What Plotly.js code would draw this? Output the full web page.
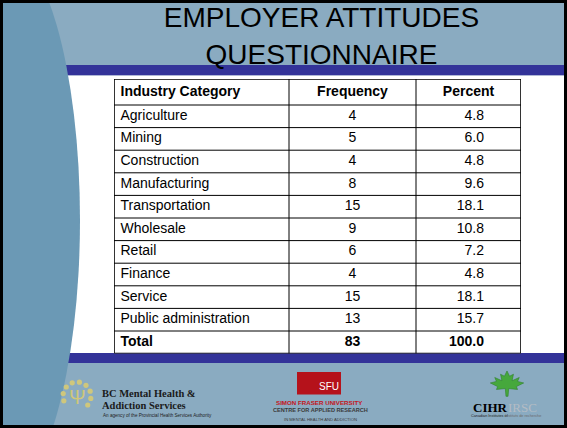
<!DOCTYPE html>
<html>
<head>
<meta charset="utf-8">
<script src="https://cdn.plot.ly/plotly-3.0.1.min.js"></script>
<style>
html,body{margin:0;padding:0;background:#fff;}
#chart{width:567px;height:428px;}
</style>
</head>
<body>
<div id="chart"></div>
<script>
// ---- data ----
const headers = ["Industry Category", "Frequency", "Percent"];
const categories = ["Agriculture", "Mining", "Construction", "Manufacturing", "Transportation",
  "Wholesale", "Retail", "Finance", "Service", "Public administration"];
const frequency = [4, 5, 4, 8, 15, 9, 6, 4, 15, 13];
const percent = [4.8, 6.0, 4.8, 9.6, 18.1, 10.8, 7.2, 4.8, 18.1, 15.7];
const totalLabel = "Total";
const totalFrequency = 83;
const totalPercent = 100.0;
const titleLines = ["EMPLOYER ATTITUDES", "QUESTIONNAIRE"];

// ---- layout constants (table geometry, in table pixels) ----
const W = 567, H = 428;
const px = x => x / W;
const py = y => 1 - y / H;
const tableLeft = 114, tableTop = 79;
const columnWidths = [175, 127, 105];
const headerHeight = 26, rowHeight = 22.6;
const textPad = 6.5, pctRightPad = 37;

const tableWidth = columnWidths.reduce((a, b) => a + b, 0);
const nRows = categories.length + 1;
const tableHeight = headerHeight + nRows * rowHeight;
const colEdges = [0];
columnWidths.forEach(w => colEdges.push(colEdges[colEdges.length - 1] + w));
const rowEdges = [0, headerHeight];
for (let i = 0; i < nRows; i++) rowEdges.push(headerHeight + (i + 1) * rowHeight);

// body rows (data + total)
const rowLabels = categories.concat(["<b>" + totalLabel + "</b>"]);
const rowFreq = frequency.map(String).concat(["<b>" + totalFrequency + "</b>"]);
const rowPct = percent.map(v => v.toFixed(1)).concat(["<b>" + totalPercent.toFixed(1) + "</b>"]);
const rowY = rowLabels.map((_, i) => headerHeight + (i + 0.5) * rowHeight);
const headerY = headerHeight / 2;

const font = "Liberation Sans, Arial, sans-serif";
const serif = "Liberation Serif, Times New Roman, serif";
const tf = { family: font, size: 14, color: "#000000" };

const traces = [
  { type: "scatter", mode: "text", x: rowLabels.map(() => colEdges[0] + textPad), y: rowY,
    text: rowLabels, textposition: "middle right", textfont: tf, hoverinfo: "skip" },
  { type: "scatter", mode: "text", x: rowFreq.map(() => (colEdges[1] + colEdges[2]) / 2), y: rowY,
    text: rowFreq, textposition: "middle center", textfont: tf, hoverinfo: "skip" },
  { type: "scatter", mode: "text", x: rowPct.map(() => colEdges[3] - pctRightPad), y: rowY,
    text: rowPct, textposition: "middle left", textfont: tf, hoverinfo: "skip" },
  { type: "scatter", mode: "text",
    x: [colEdges[0] + textPad, (colEdges[1] + colEdges[2]) / 2, (colEdges[2] + colEdges[3]) / 2],
    y: headers.map(() => headerY),
    text: headers.map(h => "<b>" + h + "</b>"),
    textposition: ["middle right", "middle center", "middle center"], textfont: tf, hoverinfo: "skip" }
];

// ---- slide decoration ----
const bg = "#8aabc1", ellipse = "#6b99b5", navy = "#333399";
const rect = (x0, y0, x1, y1, fill, extra) => Object.assign({
  type: "rect", xref: "paper", yref: "paper",
  x0: px(x0), x1: px(x1), y0: py(y1), y1: py(y0),
  fillcolor: fill, line: { width: 0 }, layer: "below"
}, extra || {});

const shapes = [
  rect(0, 0, W, H, bg),
  rect(0, 65, W, 75.5, navy),
  rect(0, 75.5, W, 353, "#ffffff"),
  rect(0, 353, W, 363, navy),
  { type: "circle", xref: "paper", yref: "paper", layer: "below",
    x0: px(-80), x1: px(80), y0: py(220 + 276), y1: py(220 - 276),
    fillcolor: ellipse, line: { width: 0 } },
  rect(297, 372, 341, 394.5, "#b5121b")
];

// table cells: white fill + grid lines on the table axes
shapes.push({ type: "rect", xref: "x", yref: "y", layer: "below",
  x0: 0, x1: tableWidth, y0: 0, y1: tableHeight, fillcolor: "#ffffff", line: { width: 0 } });
rowEdges.slice(1, -1).forEach(y => shapes.push({ type: "line", xref: "x", yref: "y", layer: "above",
  x0: 0, x1: tableWidth, y0: y, y1: y, line: { color: "#000000", width: 1 } }));
colEdges.slice(1, -1).forEach(x => shapes.push({ type: "line", xref: "x", yref: "y", layer: "above",
  x0: x, x1: x, y0: 0, y1: tableHeight, line: { color: "#000000", width: 1 } }));
shapes.push({ type: "rect", xref: "x", yref: "y", layer: "above",
  x0: 0, x1: tableWidth, y0: 0, y1: tableHeight, fillcolor: "rgba(0,0,0,0)",
  line: { color: "#000000", width: 1.6 } });

// BC logo dots
const bcCx = 77, bcCy = 396;
for (let k = 0; k < 9; k++) {
  const a = (-200 + k * 30) * Math.PI / 180;
  const r = 14, d = 2.6;
  const cx = bcCx + r * Math.cos(a), cy = bcCy + r * Math.sin(a);
  shapes.push({ type: "circle", xref: "paper", yref: "paper", layer: "above",
    x0: px(cx - d), x1: px(cx + d), y0: py(cy + d), y1: py(cy - d),
    fillcolor: "#cfc77c", line: { width: 0 } });
}

// maple leaf
const leaf = [[0,-1],[0.15,-0.6],[0.38,-0.75],[0.3,-0.25],[0.72,-0.5],[0.62,-0.2],[0.98,-0.08],[0.55,0.2],[0.62,0.42],[0.1,0.35],[0.06,0.95],[-0.06,0.95],[-0.1,0.35],[-0.62,0.42],[-0.55,0.2],[-0.98,-0.08],[-0.62,-0.2],[-0.72,-0.5],[-0.3,-0.25],[-0.38,-0.75],[-0.15,-0.6]];
const lx = 507, ly = 384, sx = 17, sy = 13;
const leafPath = "M" + leaf.map(p => px(lx + p[0] * sx).toFixed(5) + "," + py(ly + p[1] * sy).toFixed(5)).join("L") + "Z";
shapes.push({ type: "path", xref: "paper", yref: "paper", path: leafPath, layer: "above",
  fillcolor: "#46a83c", line: { color: "#2f7f2a", width: 0.6 } });

// outer frame
shapes.push({ type: "rect", xref: "paper", yref: "paper", layer: "above",
  x0: px(1.5), x1: px(W - 1.5), y0: py(H - 1.5), y1: py(1.5),
  line: { color: "#000000", width: 3 }, fillcolor: "rgba(0,0,0,0)" });

const ann = (text, x, y, size, color, opts) => Object.assign({
  text, xref: "paper", yref: "paper", x: px(x), y: py(y),
  xanchor: "left", yanchor: "middle", showarrow: false,
  font: { family: font, size, color }
}, opts || {});

const annotations = [
  ann("Ψ", bcCx, bcCy + 1, 20, "#cfc77c", { xanchor: "center" }),
  ann("<b>BC Mental Health &</b>", 100, 393, 10.5, "#1a1a1a", { font: { family: serif, size: 10.5, color: "#1a1a1a" } }),
  ann("<b>Addiction Services</b>", 100, 405, 10.5, "#1a1a1a", { font: { family: serif, size: 10.5, color: "#1a1a1a" } }),
  ann("An agency of the Provincial Health Services Authority", 101, 415.5, 4.6, "#222222"),
  ann("SFU", 329, 386, 10, "#ffffff", { xanchor: "center" }),
  ann("<b>SIMON FRASER UNIVERSITY</b>", 319.5, 402, 6.2, "#c4161c", { xanchor: "center" }),
  ann("<b>CENTRE FOR APPLIED RESEARCH</b>", 320, 409.5, 5.6, "#3a3a3a", { xanchor: "center" }),
  ann("IN MENTAL HEALTH AND ADDICTION", 320, 419, 4.2, "#3a3a3a", { xanchor: "center" }),
  ann("<b>CIHR</b>", 490, 407, 13, "#000000", { xanchor: "center", font: { family: serif, size: 13, color: "#000000" } }),
  ann("IRSC", 522, 407, 13, "#b4bcc4", { xanchor: "center", font: { family: serif, size: 13, color: "#b4bcc4" } }),
  ann("Canadian Institutes of", 490, 416, 3.8, "#222222", { xanchor: "center" }),
  ann("Instituts de recherche", 523, 416, 3.8, "#6a6a6a", { xanchor: "center" })
];

const layout = {
  width: W, height: H,
  margin: { l: 0, r: 0, t: 0, b: 0, pad: 0 },
  paper_bgcolor: bg,
  plot_bgcolor: "rgba(0,0,0,0)",
  showlegend: false,
  xaxis: { domain: [px(tableLeft), px(tableLeft + tableWidth)], range: [0, tableWidth],
    visible: false, fixedrange: true },
  yaxis: { domain: [py(tableTop + tableHeight), py(tableTop)], range: [tableHeight, 0],
    visible: false, fixedrange: true },
  title: {
    text: titleLines.join("<br>"),
    x: px(321.5), xanchor: "center",
    y: py(27.4), yanchor: "top", yref: "container",
    font: { family: font, size: 28, color: "#000000" }
  },
  shapes, annotations
};

Plotly.newPlot("chart", traces, layout, { staticPlot: true, displayModeBar: false });
</script>
</body>
</html>
